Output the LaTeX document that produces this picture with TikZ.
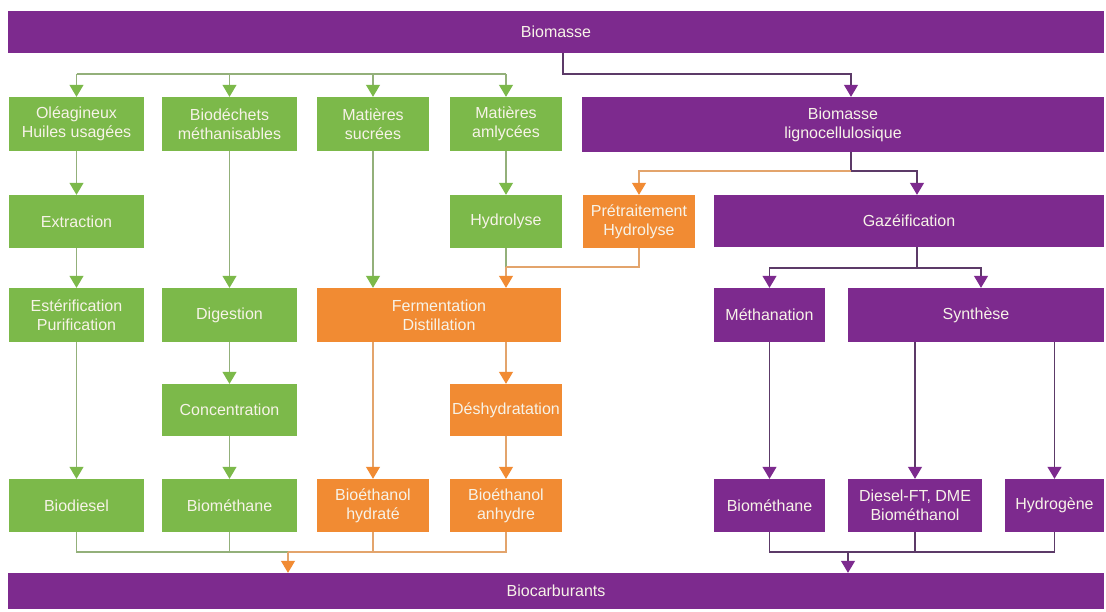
\documentclass[tikz,border=0pt]{standalone}
\usepackage{fontspec}
\setmainfont{Liberation Sans}
\usetikzlibrary{arrows.meta}
\definecolor{gr}{HTML}{7CB94A}
\definecolor{orr}{HTML}{F18B33}
\definecolor{pu}{HTML}{7D2A8E}
\definecolor{gl}{HTML}{93B07A}
\definecolor{ol}{HTML}{E3A46C}
\definecolor{pl}{HTML}{5C3A68}
\definecolor{txt}{HTML}{F7F3E8}
\tikzset{
  bx/.style={rectangle, inner sep=0pt, text=txt, align=center,
    font=\fontsize{16}{19}\selectfont},
  gbox/.style={bx, fill=gr},
  obox/.style={bx, fill=orr},
  pbox/.style={bx, fill=pu},
  r1/.style={minimum height=54pt},
  gline/.style={draw=gl, line width=1.2pt},
  oline/.style={draw=ol, line width=1.2pt},
  pline/.style={draw=pl, line width=1.2pt},
  garr/.style={gline, -{Triangle[width=14pt,length=12pt,color=gr]}},
  oarr/.style={oline, -{Triangle[width=14pt,length=12pt,color=orr]}},
  parr/.style={pline, -{Triangle[width=14pt,length=12pt,color=pu]}}
}
\begin{document}
\begin{tikzpicture}[x=1pt,y=-1pt]
\useasboundingbox[fill=white] (0,0) rectangle (1106,611);
% bars
\node[pbox, minimum width=1096pt, minimum height=42pt] (top) at (556,32) {Biomasse};
\node[pbox, minimum width=1096pt, minimum height=36pt] (bot) at (556,591) {Biocarburants};
% row 1
\node[gbox, r1, minimum width=135pt] (A1) at (76.5,124) {Oléagineux\\Huiles usagées};
\node[gbox, r1, minimum width=135pt] (A2) at (229.5,124) {Biodéchets\\méthanisables};
\node[gbox, r1, minimum width=112pt] (A3) at (373,124) {Matières\\sucrées};
\node[gbox, r1, minimum width=112pt] (A4) at (506,124) {Matières\\amlycées};
\node[pbox, minimum height=55pt, minimum width=522pt] (L) at (843,124.5) {Biomasse\\lignocellulosique};
% row 2
\node[gbox, minimum height=53pt, minimum width=135pt] (Ex) at (76.5,221.5) {Extraction};
\node[gbox, minimum height=53pt, minimum width=112pt] (Hy) at (506,221.5) {Hydrolyse};
\node[obox, minimum height=53pt, minimum width=112pt] (Pr) at (639,221.5) {Prétraitement\\Hydrolyse};
\node[pbox, minimum height=52pt, minimum width=390pt] (Gz) at (909,221) {Gazéification};
% row 3
\node[gbox, r1, minimum width=135pt] (Es) at (76.5,315) {Estérification\\Purification};
\node[gbox, r1, minimum width=135pt] (Di) at (229.5,315) {Digestion};
\node[obox, r1, minimum width=244pt] (Fe) at (439,315) {Fermentation\\Distillation};
\node[pbox, r1, minimum width=111pt] (Me) at (769.5,315) {Méthanation};
\node[pbox, r1, minimum width=256pt] (Sy) at (976,315) {Synthèse};
% row 4
\node[gbox, minimum height=52pt, minimum width=135pt] (Co) at (229.5,410) {Concentration};
\node[obox, minimum height=52pt, minimum width=112pt] (De) at (506,410) {Déshydratation};
% row 5
\node[gbox, minimum height=53pt, minimum width=135pt] (Bd) at (76.5,505.5) {Biodiesel};
\node[gbox, minimum height=53pt, minimum width=135pt] (Bm) at (229.5,505.5) {Biométhane};
\node[obox, minimum height=53pt, minimum width=112pt] (Bh) at (373,505.5) {Bioéthanol\\hydraté};
\node[obox, minimum height=53pt, minimum width=112pt] (Ba) at (506,505.5) {Bioéthanol\\anhydre};
\node[pbox, minimum height=53pt, minimum width=111pt] (Pm) at (769.5,505.5) {Biométhane};
\node[pbox, minimum height=53pt, minimum width=134pt] (Df) at (915,505.5) {Diesel-FT, DME\\Biométhanol};
\node[pbox, minimum height=53pt, minimum width=99pt] (Hg) at (1054.5,505.5) {Hydrogène};
% helper coordinates
\coordinate (gL) at (0,74);
\coordinate (xT) at (563,0);
\coordinate (xL) at (851,0);
\coordinate (yLs) at (0,171);
\coordinate (xG) at (917,0);
\coordinate (yH) at (0,267);
\coordinate (yG) at (0,268);
\coordinate (xS) at (981,0);
\coordinate (yB) at (0,552);
\coordinate (xBl) at (288,0);
\coordinate (xBr) at (848,0);
% top distribution
\draw[gline] (A1.north |- gL) -- (A4.north |- gL);
\draw[garr] (A1.north |- gL) -- (A1.north);
\draw[garr] (A2.north |- gL) -- (A2.north);
\draw[garr] (A3.north |- gL) -- (A3.north);
\draw[garr] (A4.north |- gL) -- (A4.north);
\draw[parr] (top.south -| xT) -- (xT |- gL) -- (xL |- gL) -- (L.north -| xL);
% lignocellulosique split
\draw[pline] (L.south -| xL) -- (xL |- yLs);
\draw[oarr] (xL |- yLs) -- (Pr.north |- yLs) -- (Pr.north);
\draw[parr] (xL |- yLs) -- (xG |- yLs) -- (Gz.north -| xG);
% green columns
\draw[garr] (A1.south) -- (Ex.north);
\draw[garr] (Ex.south) -- (Es.north);
\draw[garr] (Es.south) -- (Bd.north);
\draw[garr] (A2.south) -- (Di.north);
\draw[garr] (Di.south) -- (Co.north);
\draw[garr] (Co.south) -- (Bm.north);
\draw[garr] (A3.south) -- (A3.south |- Fe.north);
\draw[garr] (A4.south) -- (Hy.north);
% hydrolyse to fermentation
\draw[gline] (Hy.south) -- (Hy.south |- yH);
\draw[oline] (Pr.south) -- (Pr.south |- yH) -- (Hy.south |- yH);
\draw[oarr] (Hy.south |- yH) -- (Hy.south |- Fe.north);
% orange columns
\draw[oarr] (Fe.south -| Bh.north) -- (Bh.north);
\draw[oarr] (Fe.south -| De.north) -- (De.north);
\draw[oarr] (De.south) -- (Ba.north);
% gazeification split
\draw[pline] (Gz.south -| xG) -- (xG |- yG);
\draw[parr] (xG |- yG) -- (Me.north |- yG) -- (Me.north);
\draw[parr] (xG |- yG) -- (xS |- yG) -- (Sy.north -| xS);
\draw[parr] (Me.south) -- (Pm.north);
\draw[parr] (Sy.south -| Df.north) -- (Df.north);
\draw[parr] (Sy.south -| Hg.north) -- (Hg.north);
% bottom left collector
\draw[gline] (Bd.south) -- (Bd.south |- yB) -- (xBl |- yB);
\draw[gline] (Bm.south) -- (Bm.south |- yB);
\draw[oline] (xBl |- yB) -- (Ba.south |- yB) -- (Ba.south);
\draw[oline] (Bh.south) -- (Bh.south |- yB);
\draw[oarr] (xBl |- yB) -- (bot.north -| xBl);
% bottom right collector
\draw[pline] (Pm.south) -- (Pm.south |- yB) -- (Hg.south |- yB) -- (Hg.south);
\draw[pline] (Df.south) -- (Df.south |- yB);
\draw[parr] (xBr |- yB) -- (bot.north -| xBr);
\end{tikzpicture}
\end{document}
